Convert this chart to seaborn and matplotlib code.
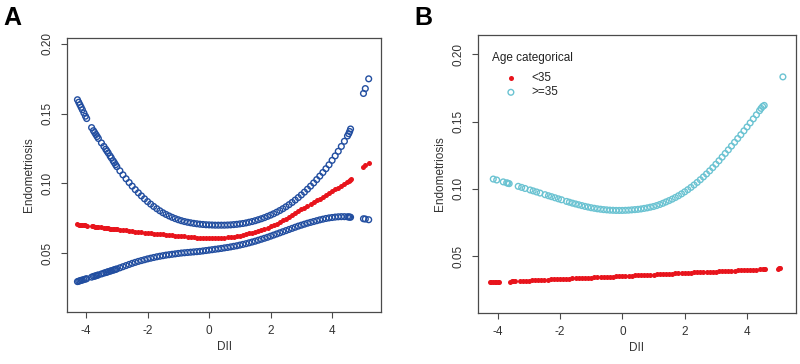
import pandas as pd
import matplotlib
matplotlib.use("Agg")
import matplotlib.pyplot as plt
import seaborn as sns

# Panel A: DII vs predicted endometriosis with 95% CI
DII_A = [
    -4.28, -4.24, -4.2, -4.16, -4.12, -4.07, -4.02, -3.98, -3.82, -3.76,
    -3.72, -3.68, -3.64, -3.6, -3.5, -3.42, -3.36, -3.32, -3.28, -3.22,
    -3.18, -3.12, -3.08, -3.04,
    -3.0, -2.9, -2.8, -2.7, -2.6, -2.5, -2.4, -2.3, -2.2, -2.1,
    -2.0, -1.9, -1.8, -1.7, -1.6, -1.5, -1.4, -1.3, -1.2, -1.1,
    -1.0, -0.9, -0.8, -0.7, -0.6, -0.5, -0.4, -0.3, -0.2, -0.1,
    0.0, 0.1, 0.2, 0.3, 0.4, 0.5, 0.6, 0.7, 0.8, 0.9,
    1.0, 1.1, 1.2, 1.3, 1.4, 1.5, 1.6, 1.7, 1.8, 1.9,
    2.0, 2.1, 2.2, 2.3, 2.4, 2.5, 2.6, 2.7, 2.8, 2.9,
    3.0, 3.1, 3.2, 3.3, 3.4, 3.5, 3.6, 3.7, 3.8, 3.9,
    4.0, 4.1, 4.2, 4.3, 4.4, 4.5,
    4.54, 4.57, 4.6, 5.02, 5.08, 5.19,
]
upper_A = [
    0.1600, 0.1582, 0.1564, 0.1546, 0.1528, 0.1505, 0.1482, 0.1465, 0.1400, 0.1378,
    0.1364, 0.1350, 0.1336, 0.1322, 0.1290, 0.1265, 0.1245, 0.1232, 0.1218, 0.1197,
    0.1183, 0.1162, 0.1148, 0.1134,
    0.1120, 0.1090, 0.1061, 0.1033, 0.1006, 0.0980, 0.0955, 0.0932, 0.0910, 0.0889,
    0.0869, 0.0851, 0.0834, 0.0818, 0.0803, 0.0789, 0.0777, 0.0766, 0.0756, 0.0747,
    0.0739, 0.0732, 0.0726, 0.0721, 0.0717, 0.0713, 0.0710, 0.0707, 0.0705, 0.0703,
    0.0702, 0.0701, 0.0700, 0.0700, 0.0700, 0.0700, 0.0701, 0.0702, 0.0704, 0.0706,
    0.0709, 0.0712, 0.0716, 0.0721, 0.0726, 0.0732, 0.0739, 0.0746, 0.0754, 0.0763,
    0.0772, 0.0782, 0.0793, 0.0805, 0.0818, 0.0832, 0.0847, 0.0863, 0.0880, 0.0898,
    0.0917, 0.0937, 0.0958, 0.0980, 0.1003, 0.1027, 0.1052, 0.1078, 0.1105, 0.1133,
    0.1165, 0.1197, 0.1230, 0.1265, 0.1302, 0.1340,
    0.1356, 0.1372, 0.1390, 0.1645, 0.1680, 0.1750,
]
fit_A = [
    0.0705, 0.0704, 0.0703, 0.0702, 0.0700, 0.0699, 0.0698, 0.0697, 0.0692, 0.0691,
    0.0690, 0.0689, 0.0688, 0.0687, 0.0684, 0.0682, 0.0680, 0.0679, 0.0678, 0.0676,
    0.0675, 0.0674, 0.0673, 0.0672,
    0.0671, 0.0668, 0.0665, 0.0663, 0.0660, 0.0657, 0.0654, 0.0652, 0.0649, 0.0647,
    0.0644, 0.0642, 0.0639, 0.0637, 0.0635, 0.0633, 0.0631, 0.0629, 0.0627, 0.0625,
    0.0623, 0.0621, 0.0619, 0.0617, 0.0615, 0.0613, 0.0611, 0.0609, 0.0608, 0.0607,
    0.0606, 0.0606, 0.0606, 0.0607, 0.0608, 0.0610, 0.0612, 0.0615, 0.0618, 0.0621,
    0.0625, 0.0629, 0.0635, 0.0641, 0.0647, 0.0653, 0.0660, 0.0667, 0.0675, 0.0683,
    0.0692, 0.0701, 0.0711, 0.0722, 0.0735, 0.0747, 0.0760, 0.0773, 0.0786, 0.0800,
    0.0813, 0.0826, 0.0839, 0.0852, 0.0865, 0.0878, 0.0891, 0.0904, 0.0917, 0.0930,
    0.0943, 0.0956, 0.0970, 0.0984, 0.0998, 0.1013,
    0.1019, 0.1024, 0.1029, 0.1115, 0.1130, 0.1148,
]
lower_A = [
    0.0295, 0.0298, 0.0301, 0.0304, 0.0306, 0.0310, 0.0313, 0.0316, 0.0327, 0.0332,
    0.0334, 0.0337, 0.0340, 0.0343, 0.0350, 0.0356, 0.0360, 0.0363, 0.0366, 0.0370,
    0.0373, 0.0377, 0.0380, 0.0383,
    0.0386, 0.0394, 0.0402, 0.0410, 0.0418, 0.0426, 0.0433, 0.0440, 0.0446, 0.0452,
    0.0458, 0.0463, 0.0468, 0.0473, 0.0477, 0.0481, 0.0485, 0.0488, 0.0491, 0.0494,
    0.0497, 0.0500, 0.0502, 0.0504, 0.0506, 0.0508, 0.0510, 0.0512, 0.0515, 0.0518,
    0.0521, 0.0524, 0.0527, 0.0530, 0.0533, 0.0537, 0.0540, 0.0544, 0.0548, 0.0552,
    0.0557, 0.0562, 0.0567, 0.0573, 0.0579, 0.0585, 0.0592, 0.0599, 0.0606, 0.0613,
    0.0621, 0.0629, 0.0637, 0.0645, 0.0653, 0.0661, 0.0669, 0.0677, 0.0685, 0.0693,
    0.0700, 0.0707, 0.0714, 0.0720, 0.0726, 0.0732, 0.0738, 0.0743, 0.0748, 0.0752,
    0.0755, 0.0758, 0.0760, 0.0761, 0.0761, 0.0760,
    0.0759, 0.0758, 0.0757, 0.0746, 0.0744, 0.0739,
]

# Panel B: stratified by age group
DII_B_old = [
    -4.14, -4.03, -3.82, -3.71, -3.67, -3.63, -3.34, -3.23, -3.12, -2.96,
    -2.86, -2.75, -2.64, -2.48, -2.37, -2.27, -2.16, -2.05, -1.95, -1.79,
    -1.7, -1.6, -1.5, -1.4, -1.3, -1.2, -1.1, -1.0, -0.9, -0.8,
    -0.7, -0.6, -0.5, -0.4, -0.3, -0.2, -0.1, 0.0, 0.1, 0.2,
    0.3, 0.4, 0.5, 0.6, 0.7, 0.8, 0.9, 1.0, 1.1, 1.2,
    1.3, 1.4, 1.5, 1.6, 1.7, 1.8, 1.9, 2.0, 2.1, 2.2,
    2.3, 2.4, 2.5, 2.6, 2.7, 2.8, 2.9, 3.0, 3.1, 3.2,
    3.3, 3.4, 3.5, 3.6, 3.7, 3.8, 3.9, 4.0, 4.1, 4.2,
    4.3, 4.4,
    4.45, 4.5, 4.55, 5.15,
]
pred_B_old = [
    0.1073, 0.1066, 0.1052, 0.1045, 0.1042, 0.1039, 0.1019, 0.1011, 0.1003, 0.0992,
    0.0985, 0.0977, 0.0969, 0.0957, 0.0949, 0.0942, 0.0934, 0.0926, 0.0919, 0.0907,
    0.0901, 0.0894, 0.0888, 0.0882, 0.0876, 0.0870, 0.0865, 0.0860, 0.0856, 0.0852,
    0.0849, 0.0846, 0.0844, 0.0842, 0.0841, 0.0840, 0.0840, 0.0840, 0.0841, 0.0842,
    0.0844, 0.0846, 0.0848, 0.0851, 0.0855, 0.0859, 0.0864, 0.0869, 0.0876, 0.0884,
    0.0893, 0.0903, 0.0913, 0.0924, 0.0936, 0.0949, 0.0963, 0.0978, 0.0994, 0.1011,
    0.1029, 0.1048, 0.1068, 0.1089, 0.1111, 0.1134, 0.1158, 0.1183, 0.1209, 0.1236,
    0.1263, 0.1290, 0.1318, 0.1346, 0.1374, 0.1402, 0.1431, 0.1460, 0.1490, 0.1520,
    0.1550, 0.1581,
    0.1598, 0.1612, 0.1620, 0.1832,
]
DII_B_young = [
    -4.25, -4.2, -4.15, -4.1, -4.05, -4.0, -3.95, -3.6, -3.55, -3.5,
    -3.45, -3.28, -3.2, -3.1,
    -3.0, -2.9, -2.8, -2.7, -2.6, -2.5, -2.4, -2.3, -2.2, -2.1,
    -2.0, -1.9, -1.8, -1.7, -1.6, -1.5, -1.4, -1.3, -1.2, -1.1,
    -1.0, -0.9, -0.8, -0.7, -0.6, -0.5, -0.4, -0.3, -0.2, -0.1,
    0.0, 0.1, 0.2, 0.3, 0.4, 0.5, 0.6, 0.7, 0.8, 0.9,
    1.0, 1.1, 1.2, 1.3, 1.4, 1.5, 1.6, 1.7, 1.8, 1.9,
    2.0, 2.1, 2.2, 2.3, 2.4, 2.5, 2.6, 2.7, 2.8, 2.9,
    3.0, 3.1, 3.2, 3.3, 3.4, 3.5, 3.6, 3.7, 3.8, 3.9,
    4.0, 4.1, 4.2, 4.3, 4.4, 4.5,
    4.55, 4.58, 4.98, 5.02, 5.06,
]
pred_B_young = [
    0.0305, 0.0306, 0.0306, 0.0307, 0.0307, 0.0308, 0.0308, 0.0312, 0.0313, 0.0313,
    0.0314, 0.0316, 0.0317, 0.0318,
    0.0319, 0.0320, 0.0321, 0.0322, 0.0323, 0.0325, 0.0326, 0.0327, 0.0328, 0.0329,
    0.0330, 0.0331, 0.0332, 0.0334, 0.0335, 0.0336, 0.0337, 0.0338, 0.0339, 0.0340,
    0.0341, 0.0343, 0.0344, 0.0345, 0.0346, 0.0347, 0.0348, 0.0349, 0.0350, 0.0352,
    0.0353, 0.0354, 0.0355, 0.0356, 0.0357, 0.0358, 0.0359, 0.0361, 0.0362, 0.0363,
    0.0364, 0.0365, 0.0366, 0.0367, 0.0368, 0.0370, 0.0371, 0.0372, 0.0373, 0.0374,
    0.0375, 0.0376, 0.0377, 0.0379, 0.0380, 0.0381, 0.0382, 0.0383, 0.0384, 0.0385,
    0.0386, 0.0388, 0.0389, 0.0390, 0.0391, 0.0392, 0.0393, 0.0394, 0.0395, 0.0397,
    0.0398, 0.0399, 0.0400, 0.0401, 0.0402, 0.0403,
    0.0404, 0.0404, 0.0408, 0.0409, 0.0409,
]

y_ticks = [0.05, 0.10, 0.15, 0.20]
x_ticks = [-4, -2, 0, 2, 4]

BLUE = "#224EA0"
RED = "#E8141C"
CYAN = "#6BC3D2"
AXIS_GREY = "#4a4a4a"

sns.set_theme(style="white")
plt.rcParams["font.family"] = ["Liberation Sans", "DejaVu Sans"]

df_a = pd.DataFrame({"DII": DII_A, "upper": upper_A, "fit": fit_A, "lower": lower_A})
df_old = pd.DataFrame({"DII": DII_B_old, "pred": pred_B_old})
df_young = pd.DataFrame({"DII": DII_B_young, "pred": pred_B_young})

fig = plt.figure(figsize=(8, 3.64), dpi=100)
ax_a = fig.add_axes([0.08375, 0.1429, 0.3925, 0.7527])
ax_b = fig.add_axes([0.5975, 0.1401, 0.3975, 0.7637])

open_kw = dict(facecolor="none", linewidth=1.0, s=17, marker="o")
dot_kw = dict(linewidth=0, s=13, marker="o")

# --- panel A ---
sns.scatterplot(data=df_a, x="DII", y="upper", ax=ax_a, edgecolor=BLUE, **open_kw)
sns.scatterplot(data=df_a, x="DII", y="lower", ax=ax_a, edgecolor=BLUE, **open_kw)
sns.scatterplot(data=df_a, x="DII", y="fit", ax=ax_a, color=RED, **dot_kw)
ax_a.set_xlim(-4.62, 5.59)
ax_a.set_ylim(0.0077, 0.2043)

# --- panel B ---
sns.scatterplot(data=df_young, x="DII", y="pred", ax=ax_b, color=RED,
                label="<35", **dot_kw)
sns.scatterplot(data=df_old, x="DII", y="pred", ax=ax_b, edgecolor=CYAN,
                label=">=35", **open_kw)
ax_b.set_xlim(-4.63, 5.57)
ax_b.set_ylim(0.0078, 0.2143)

leg = ax_b.legend(title="Age categorical", loc="upper left",
                  bbox_to_anchor=(0.044, 0.94), frameon=False,
                  fontsize=8.5, title_fontsize=8.5, alignment="left",
                  handlelength=3.2, handletextpad=0.1, labelspacing=0.2,
                  borderpad=0, borderaxespad=0)
leg._legend_box.sep = 6
for t in leg.get_texts():
    t.set_color("#222222")
leg.get_title().set_color("#222222")

for ax in (ax_a, ax_b):
    ax.set_xticks(x_ticks)
    ax.set_xticklabels([f"{v}" for v in x_ticks])
    ax.set_yticks(y_ticks)
    ax.set_yticklabels([f"{v:.2f}" for v in y_ticks], rotation=90, va="center")
    ax.tick_params(axis="both", direction="out", length=4.5, width=0.8,
                   color=AXIS_GREY, labelsize=8.5, labelcolor="#333333", pad=5,
                   bottom=True, left=True)
    for sp in ax.spines.values():
        sp.set_visible(True)
        sp.set_color(AXIS_GREY)
        sp.set_linewidth(0.9)
    ax.grid(False)
    ax.set_xlabel("DII", fontsize=8.5, color="#333333", labelpad=3)
    ax.set_ylabel("Endometriosis", fontsize=8.5, color="#333333", labelpad=5)

fig.text(0.004, 0.93, "A", fontsize=18, fontweight="bold", color="black")
fig.text(0.518, 0.93, "B", fontsize=18, fontweight="bold", color="black")

fig.savefig("out.png", dpi=100)
